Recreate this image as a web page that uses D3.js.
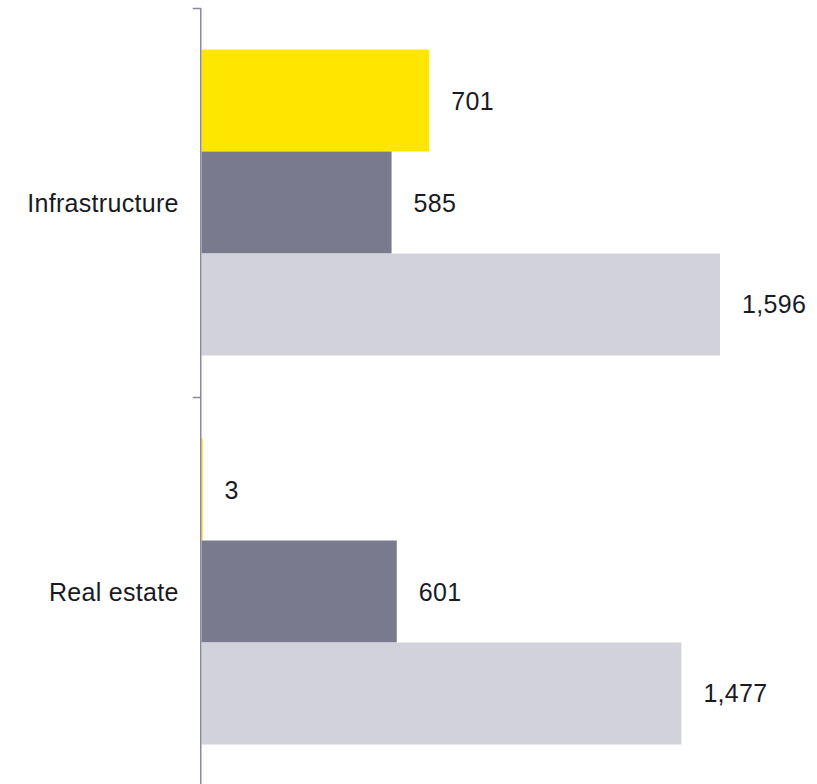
<!DOCTYPE html>
<html><head><meta charset="utf-8">
<script src="https://cdn.jsdelivr.net/npm/d3@7"></script>
<style>html,body{margin:0;padding:0;background:#fff;}</style>
</head><body>
<svg id="chart" width="817" height="784"></svg>
<script>
const categories = ["Infrastructure", "Real estate"];
const seriesNames = ["Series A", "Series B", "Series C"];
const seriesA = [701, 3];
const seriesB = [585, 601];
const seriesC = [1596, 1477];
const colors = ["#FFE600", "#7A7A8F", "#D2D2DC"];

const svg = d3.select("#chart");
const plotLeft = 201.5, plotTop = 8, plotBottom = 786;
const x = d3.scaleLinear().domain([0, 1900]).range([plotLeft, plotLeft + 1900 * 0.3249]);
const y0 = d3.scaleBand().domain(categories).range([plotTop, plotBottom]);
const y1 = d3.scaleBand().domain(seriesNames).range([0, y0.bandwidth()]).paddingInner(0).paddingOuter(0.407);

const data = categories.map((c, i) => ({cat: c, vals: [seriesA[i], seriesB[i], seriesC[i]]}));
const font = "'Liberation Sans', Arial, sans-serif";
const fsize = 25;

const g = svg.selectAll("g.cat").data(data).join("g").attr("class", "cat")
  .attr("transform", d => `translate(0,${y0(d.cat)})`);
g.selectAll("rect").data(d => d.vals.map((v, k) => ({v, k}))).join("rect")
  .attr("x", x(0)).attr("y", d => y1(seriesNames[d.k]))
  .attr("width", d => Math.max(1.2, x(d.v) - x(0))).attr("height", y1.bandwidth())
  .attr("fill", d => colors[d.k]);
g.selectAll("text.val").data(d => d.vals.map((v, k) => ({v, k}))).join("text").attr("class", "val")
  .attr("x", d => x(d.v) + 22).attr("y", d => y1(seriesNames[d.k]) + y1.bandwidth() / 2 + 9)
  .attr("font-family", font).attr("font-size", fsize).attr("fill", "#1a1a24")
  .attr("letter-spacing", 0.3)
  .text(d => d3.format(",")(d.v));

// axis
const axisColor = "#8a8a9c";
const axX = plotLeft - 0.75;
svg.append("line").attr("x1", axX).attr("x2", axX).attr("y1", plotTop).attr("y2", plotBottom)
  .attr("stroke", axisColor).attr("stroke-width", 1.5);
const tickYs = categories.map(c => y0(c)).concat([plotBottom]);
svg.selectAll("line.tick").data(tickYs).join("line").attr("class", "tick")
  .attr("x1", axX - 8).attr("x2", axX).attr("y1", d => d + 0.5).attr("y2", d => d + 0.5)
  .attr("stroke", axisColor).attr("stroke-width", 1.5);
svg.selectAll("text.catlabel").data(categories).join("text").attr("class", "catlabel")
  .attr("x", axX - 22).attr("y", d => y0(d) + y0.bandwidth() / 2 + 9)
  .attr("text-anchor", "end")
  .attr("font-family", font).attr("font-size", fsize).attr("fill", "#1a1a24")
  .attr("letter-spacing", 0.3)
  .text(d => d);
</script>
</body></html>
